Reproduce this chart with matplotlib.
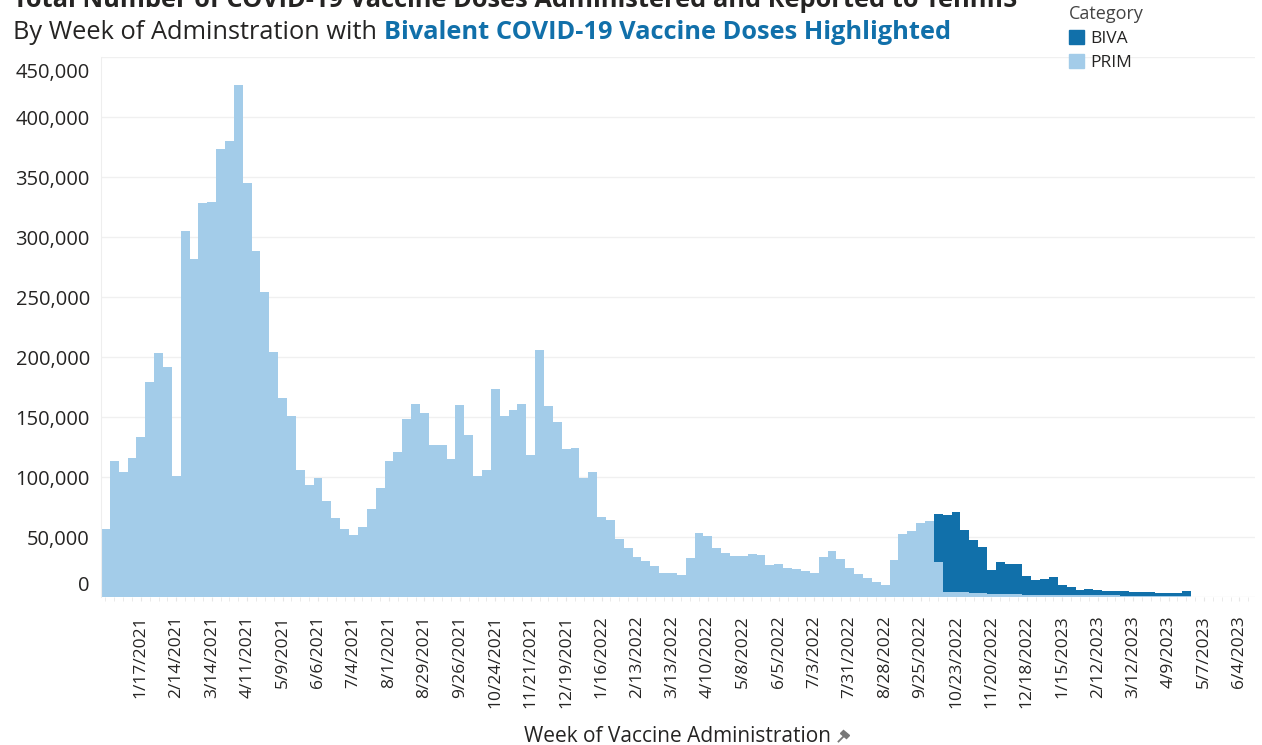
import numpy as np
import pandas as pd
from matplotlib import pyplot as plt
from matplotlib.patches import Patch, Polygon
from matplotlib.lines import Line2D
from matplotlib.transforms import ScaledTranslation

plt.rcParams['font.family'] = ['Open Sans', 'DejaVu Sans']

# weekly doses, first week = 12/20/2020
prim = [57000, 113000, 104000, 116000, 133000, 179000, 203000, 192000, 100500, 305000,
        282000, 328000, 329000, 373000, 380000, 427000, 345000, 288000,
        254000, 204000, 166000, 151000, 106000, 93000, 99000, 80000, 65500, 57000,
        51500, 58000, 73000, 91000, 113500, 121000, 148000, 161000,
        153000, 127000, 127000, 115000, 160000, 135000, 101000, 106000, 173000, 151000,
        156000, 161000, 118000, 206000, 159000, 146000, 123000, 124000,
        99500, 104500, 66500, 64000, 48000, 41000, 33000, 30000, 26000, 20000, 20000,
        18000, 32500, 53000, 51000, 41000, 37000, 34000,
        34000, 36000, 35000, 26500, 27500, 24000, 23000, 22000, 19700, 33000, 38000,
        31700, 24000, 19000, 16000, 12800, 10300, 30600,
        52800, 55000, 62000, 63600, 29300,
        4400, 4300, 4000, 3600, 3500, 2200, 2600, 2700, 2700, 1900, 1900, 1800, 1800,
        1700, 1600, 1500, 1400, 1400, 1300, 1300, 1200, 1100, 1100, 1000, 1000, 900,
        900, 800]
biva = [0] * 94 + [39600, 63700, 66300, 52000, 43900, 38100, 20000, 26600, 24700, 24700,
                   15300, 11900, 13600, 14700, 8500, 6600, 4600, 5600, 4100, 4100, 4100,
                   3900, 3300, 3300, 3300, 2600, 2600, 2600, 4300]
n_weeks = 130
weeks = pd.date_range('2020-12-20', periods=n_weeks, freq='7D')
tick_idx = list(range(4, n_weeks, 4))
tick_labels = [f'{d.month}/{d.day}/{d.year}' for d in weeks[tick_idx]]

PRIM_COLOR = '#a3cce9'
BIVA_COLOR = '#1170aa'
TEXT = '#252423'

fig = plt.figure(figsize=(12.62, 7.45), dpi=100)
W, H = 1262, 745
ax = fig.add_axes([101 / W, 1 - 597 / H, (1255 - 101) / W, (597 - 57) / H])

x = np.arange(len(prim))
ax.bar(x, prim, width=1.0, color=PRIM_COLOR, linewidth=0)
ax.bar(x, biva, width=1.0, bottom=prim, color=BIVA_COLOR, linewidth=0)

ax.set_xlim(-0.5, n_weeks - 0.25)
ax.set_ylim(0, 450000)

yt = np.arange(0, 450001, 50000)
ax.set_yticks(yt)
ax.set_yticklabels([f'{v:,}' for v in yt], fontsize=14.5, color=TEXT)
ax.tick_params(axis='y', length=0, pad=8)
ylabs = ax.get_yticklabels()
ylabs[0].set_va('bottom')
ylabs[0].set_transform(ylabs[0].get_transform() + ScaledTranslation(0, 1 / 100, fig.dpi_scale_trans))
ylabs[-1].set_va('top')
ylabs[-1].set_transform(ylabs[-1].get_transform() + ScaledTranslation(0, -6 / 100, fig.dpi_scale_trans))
ax.grid(axis='y', color='#f0f0f0', linewidth=1)
ax.set_axisbelow(True)

ax.set_xticks(tick_idx)
ax.set_xticklabels(tick_labels, rotation=90, fontsize=12.5, color=TEXT)
ax.set_xticks(np.arange(n_weeks), minor=True)
ax.tick_params(axis='x', which='both', length=3, color='#e6e6e6', pad=10)

for s in ['top', 'right', 'bottom']:
    ax.spines[s].set_visible(False)
ax.spines['left'].set_color('#eeeeee')

ax.set_xlabel('Week of Vaccine Administration', fontsize=15, color=TEXT)
ax.xaxis.set_label_coords(0.5, (597 - 726) / 540)

# titles
fig.text(13 / W, 1 - 7 / H, 'Total Number of COVID-19 Vaccine Doses Administered and Reported to TennIIS',
         fontsize=18.3, fontweight='bold', color=TEXT, va='baseline')
t1 = fig.text(13 / W, 1 - 39 / H, 'By Week of Adminstration with ', fontsize=18.3,
              color=TEXT, va='baseline')
fig.canvas.draw()
r = fig.canvas.get_renderer()
bb = t1.get_window_extent(r)
fig.text(bb.x1 / W, 1 - 39 / H, 'Bivalent COVID-19 Vaccine Doses Highlighted', fontsize=18.3,
         fontweight='bold', color=BIVA_COLOR, va='baseline')

# legend
handles = [Patch(color=BIVA_COLOR, label='BIVA'), Patch(color=PRIM_COLOR, label='PRIM')]
leg = fig.legend(handles=handles, title='Category', loc='upper left',
                 bbox_to_anchor=(1062 / W, 1 + 2 / H), frameon=False, fontsize=12.5,
                 title_fontsize=13, handlelength=0.85, handleheight=0.85,
                 handletextpad=0.4, labelspacing=0.42, alignment='left', borderaxespad=0)
for t in leg.get_texts():
    t.set_color(TEXT)
leg.get_title().set_color('#444444')

# pin icon after axis title
lb = ax.xaxis.label.get_window_extent(r)
px, py = lb.x1 + 13, (lb.y0 + lb.y1) / 2
pin_head = Polygon([[px - 1, py + 6], [px + 5, py + 1], [px + 2, py - 2], [px - 4, py + 3]],
                   closed=True, transform=None, color='#777777')
fig.patches.append(pin_head)
fig.lines.append(Line2D([px - 1, px - 6], [py, py - 5], transform=None, color='#777777',
                        linewidth=1.3))

fig.savefig('out.png', dpi=100)
